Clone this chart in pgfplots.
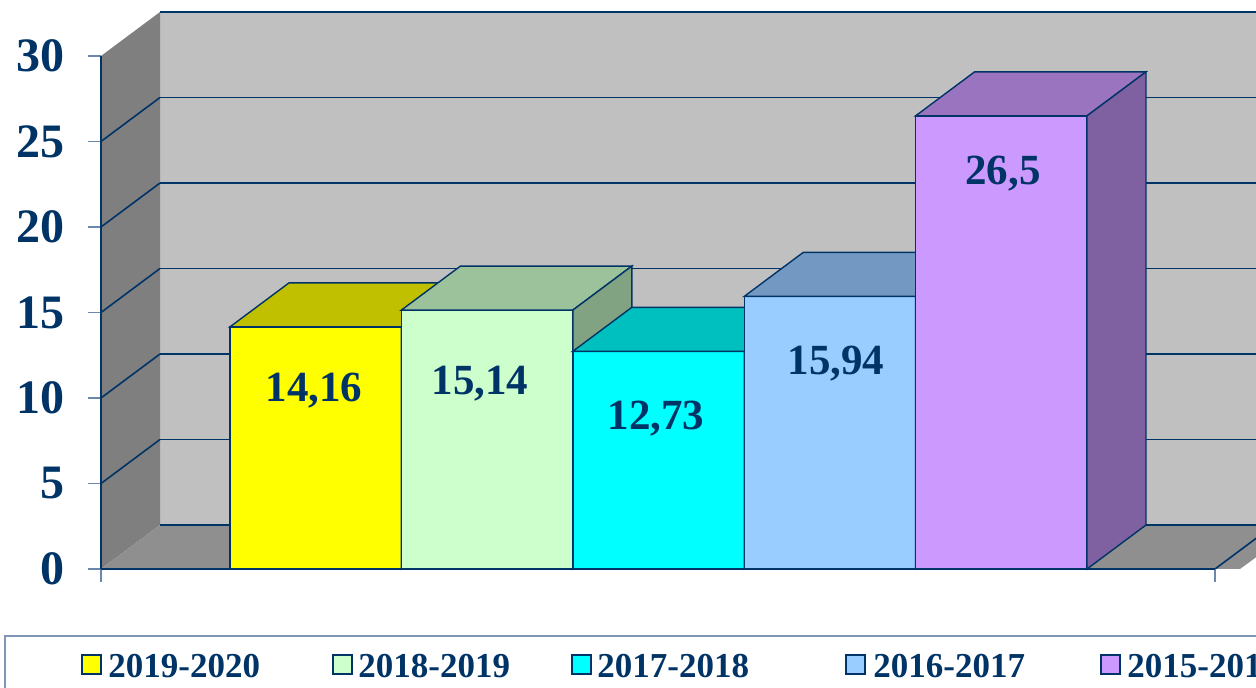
\documentclass[border=0pt]{standalone}
\usepackage{fontspec}
\setmainfont{Liberation Serif}
\usepackage{pgfplots}
\pgfplotsset{compat=1.18}
\definecolor{navy}{HTML}{003366}
\definecolor{tickcol}{HTML}{6A88AE}
\definecolor{legline}{HTML}{7F95B5}
\definecolor{backwall}{HTML}{C0C0C0}
\definecolor{leftwall}{HTML}{7F7F7F}
\definecolor{floorc}{HTML}{8F8F8F}
\definecolor{fA}{HTML}{FFFF00}\definecolor{tA}{HTML}{C0C000}\definecolor{sA}{HTML}{A3A300}
\definecolor{fB}{HTML}{CCFFCC}\definecolor{tB}{HTML}{9CC29C}\definecolor{sB}{HTML}{82A382}
\definecolor{fC}{HTML}{00FFFF}\definecolor{tC}{HTML}{00BFBF}\definecolor{sC}{HTML}{00A3A3}
\definecolor{fD}{HTML}{99CCFF}\definecolor{tD}{HTML}{7399C2}\definecolor{sD}{HTML}{6283A3}
\definecolor{fE}{HTML}{CC99FF}\definecolor{tE}{HTML}{9B74C0}\definecolor{sE}{HTML}{7F60A0}
\begin{document}
\begin{tikzpicture}
\begin{axis}[
  scale only axis, width=557pt, height=256.5pt,
  xmin=101, xmax=1215, ymin=0, ymax=30,
  clip=false, axis on top,
  axis x line*=bottom, axis y line*=left,
  axis line style={navy, line width=0.8pt},
  xtick={101,1215}, xticklabels={},
  ytick={0,5,...,30},
  tick align=outside, major tick length=6.5pt,
  tick style={tickcol, line width=0.8pt},
  /pgf/number format/assume math mode=true,
  yticklabel style={font=\bfseries\fontsize{24}{24}\selectfont, text=navy, xshift=-8pt},
]
% walls and floor
\addplot[fill=backwall, draw=none] coordinates {(160,2.573) (160,32.573) (1300,32.573) (1300,2.573)} -- cycle;
\addplot[fill=leftwall, draw=none] coordinates {(101,0) (101,30) (160,32.573) (160,2.573)} -- cycle;
\addplot[fill=floorc, draw=none] coordinates {(101,0) (160,2.573) (1300,2.573) (1240,0)} -- cycle;
% grid on back wall
\addplot[navy, line width=0.8pt] coordinates {(160,2.573) (1300,2.573)};
\addplot[navy, line width=0.8pt] coordinates {(160,7.573) (1300,7.573)};
\addplot[navy, line width=0.8pt] coordinates {(160,12.573) (1300,12.573)};
\addplot[navy, line width=0.8pt] coordinates {(160,17.573) (1300,17.573)};
\addplot[navy, line width=0.8pt] coordinates {(160,22.573) (1300,22.573)};
\addplot[navy, line width=0.8pt] coordinates {(160,27.573) (1300,27.573)};
\addplot[navy, line width=0.8pt] coordinates {(160,32.573) (1300,32.573)};
% grid on left wall
\addplot[navy, line width=0.8pt] coordinates {(101,5) (160,7.573)};
\addplot[navy, line width=0.8pt] coordinates {(101,10) (160,12.573)};
\addplot[navy, line width=0.8pt] coordinates {(101,15) (160,17.573)};
\addplot[navy, line width=0.8pt] coordinates {(101,20) (160,22.573)};
\addplot[navy, line width=0.8pt] coordinates {(101,25) (160,27.573)};
% floor right edge
\addplot[navy, line width=0.8pt] coordinates {(1215,0) (1274,2.573)};
% bar 1: 14.16
\addplot[fill=fA, draw=navy, line width=0.7pt] coordinates {(230,0) (230,14.16) (401.4,14.16) (401.4,0)} -- cycle;
\addplot[fill=tA, draw=navy, line width=0.7pt] coordinates {(230,14.16) (289,16.733) (460.4,16.733) (401.4,14.16)} -- cycle;
\addplot[fill=sA, draw=navy, line width=0.7pt] coordinates {(401.4,0) (401.4,14.16) (460.4,16.733) (460.4,2.573)} -- cycle;
% bar 2: 15.14
\addplot[fill=fB, draw=navy, line width=0.7pt] coordinates {(401.4,0) (401.4,15.14) (572.8,15.14) (572.8,0)} -- cycle;
\addplot[fill=tB, draw=navy, line width=0.7pt] coordinates {(401.4,15.14) (460.4,17.713) (631.8,17.713) (572.8,15.14)} -- cycle;
\addplot[fill=sB, draw=navy, line width=0.7pt] coordinates {(572.8,0) (572.8,15.14) (631.8,17.713) (631.8,2.573)} -- cycle;
% bar 3: 12.73
\addplot[fill=fC, draw=navy, line width=0.7pt] coordinates {(572.8,0) (572.8,12.73) (744.2,12.73) (744.2,0)} -- cycle;
\addplot[fill=tC, draw=navy, line width=0.7pt] coordinates {(572.8,12.73) (631.8,15.303) (803.2,15.303) (744.2,12.73)} -- cycle;
\addplot[fill=sC, draw=navy, line width=0.7pt] coordinates {(744.2,0) (744.2,12.73) (803.2,15.303) (803.2,2.573)} -- cycle;
% bar 4: 15.94
\addplot[fill=fD, draw=navy, line width=0.7pt] coordinates {(744.2,0) (744.2,15.94) (915.6,15.94) (915.6,0)} -- cycle;
\addplot[fill=tD, draw=navy, line width=0.7pt] coordinates {(744.2,15.94) (803.2,18.513) (974.6,18.513) (915.6,15.94)} -- cycle;
\addplot[fill=sD, draw=navy, line width=0.7pt] coordinates {(915.6,0) (915.6,15.94) (974.6,18.513) (974.6,2.573)} -- cycle;
% bar 5: 26.5
\addplot[fill=fE, draw=navy, line width=0.7pt] coordinates {(915.6,0) (915.6,26.5) (1087,26.5) (1087,0)} -- cycle;
\addplot[fill=tE, draw=navy, line width=0.7pt] coordinates {(915.6,26.5) (974.6,29.073) (1146,29.073) (1087,26.5)} -- cycle;
\addplot[fill=sE, draw=navy, line width=0.7pt] coordinates {(1087,0) (1087,26.5) (1146,29.073) (1146,2.573)} -- cycle;
% value labels
\begin{scope}[every node/.style={font=\bfseries\fontsize{21.5}{21.5}\selectfont, text=navy, anchor=base, inner sep=0pt}]
\node at (axis cs:314,9.80) {14,16};
\node at (axis cs:480,10.2) {15,14};
\node at (axis cs:656,8.15) {12,73};
\node at (axis cs:836,11.35) {15,94};
\node at (axis cs:1003,22.5) {26,5};
\end{scope}
% legend
\draw[legline, line width=1pt] (axis cs:5,-8) -- (axis cs:5,-3.918) -- (axis cs:1300,-3.918);
\begin{scope}[every node/.style={font=\bfseries\fontsize{17.5}{17.5}\selectfont, text=navy, anchor=base west, inner sep=0pt}]
\filldraw[fill=fA, draw=navy, line width=0.7pt] (axis cs:82,-5.029) rectangle (axis cs:101,-6.140);
\node at (axis cs:108,-6.316) {2019-2020};
\filldraw[fill=fB, draw=navy, line width=0.7pt] (axis cs:333,-5.029) rectangle (axis cs:352,-6.140);
\node at (axis cs:358,-6.316) {2018-2019};
\filldraw[fill=fC, draw=navy, line width=0.7pt] (axis cs:572,-5.029) rectangle (axis cs:591,-6.140);
\node at (axis cs:597,-6.316) {2017-2018};
\filldraw[fill=fD, draw=navy, line width=0.7pt] (axis cs:846,-5.029) rectangle (axis cs:865,-6.140);
\node at (axis cs:873,-6.316) {2016-2017};
\filldraw[fill=fE, draw=navy, line width=0.7pt] (axis cs:1101,-5.029) rectangle (axis cs:1120,-6.140);
\node at (axis cs:1127,-6.316) {2015-2016};
\end{scope}
\coordinate (bbl) at (axis cs:0,-6.959);
\coordinate (btr) at (axis cs:1256,33.275);
\end{axis}
\pgfresetboundingbox
\path (bbl) rectangle (btr);
\end{tikzpicture}
\end{document}
